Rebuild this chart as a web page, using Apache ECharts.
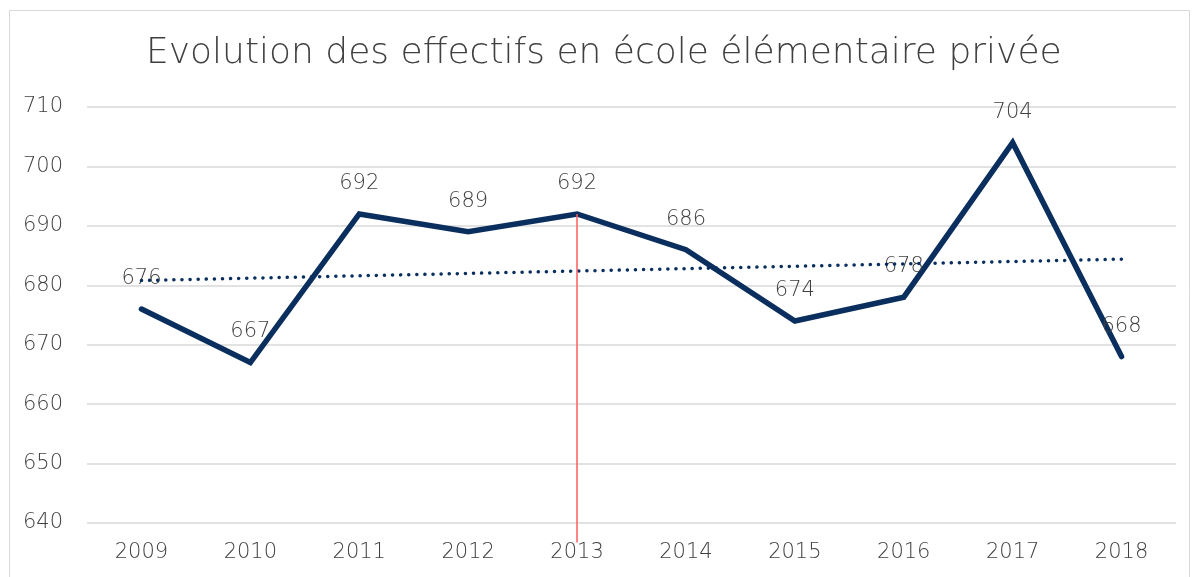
<!DOCTYPE html>
<html>
<head>
<meta charset="utf-8">
<script src="https://cdn.jsdelivr.net/npm/echarts@6/dist/echarts.min.js"></script>
<style>
  html, body { margin: 0; padding: 0; background: #fff; }
  #main { width: 1193px; height: 577px; }
</style>
</head>
<body>
<div id="main"></div>
<script>
// données
var years = ['2009', '2010', '2011', '2012', '2013', '2014', '2015', '2016', '2017', '2018'];
var effectifs = [676, 667, 692, 689, 692, 686, 674, 678, 704, 668];
// tendance linéaire (extrémités)
var tendance = [680.8, null, null, null, null, null, null, null, null, 684.4];
var yTicks = [640, 650, 660, 670, 680, 690, 700, 710];

var navy = '#0a2f5e';
var grey = '#404040';
var font = 'DejaVu Sans';

var chart = echarts.init(document.getElementById('main'));

var option = {
  animation: false,
  title: {
    text: 'Evolution des effectifs en école élémentaire privée',
    left: 141,
    top: 31,
    textStyle: {
      color: grey,
      fontWeight: 200,
      fontSize: 36,
      fontFamily: font
    }
  },
  graphic: [{
    type: 'rect',
    left: 7,
    top: 8,
    shape: { width: 1180, height: 600 },
    style: { fill: 'none', stroke: '#d9d9d9', lineWidth: 1 },
    silent: true
  }],
  grid: {
    left: 87,
    right: 17,
    top: 107,
    bottom: 54
  },
  xAxis: {
    type: 'category',
    data: years,
    boundaryGap: true,
    axisLine: { show: false },
    axisTick: { show: false },
    axisLabel: {
      color: grey,
      fontSize: 21,
      fontWeight: 200,
      fontFamily: font,
      margin: 19
    }
  },
  yAxis: {
    type: 'value',
    min: yTicks[0],
    max: yTicks[yTicks.length - 1],
    interval: 10,
    axisLine: { show: false },
    axisTick: { show: false },
    axisLabel: {
      color: grey,
      fontSize: 21,
      fontWeight: 200,
      fontFamily: font,
      margin: 24
    },
    splitLine: { lineStyle: { color: '#d9d9d9', width: 1.5 } }
  },
  series: [{
    name: 'Effectifs',
    type: 'line',
    data: effectifs,
    symbol: 'circle',
    symbolSize: 0.1,
    showSymbol: true,
    itemStyle: { color: navy },
    lineStyle: { color: navy, width: 5.5, cap: 'round', join: 'miter' },
    label: {
      show: true,
      position: 'top',
      distance: 20,
      color: grey,
      fontSize: 21,
      fontWeight: 200,
      fontFamily: font
    },
    markLine: {
      silent: true,
      symbol: 'none',
      label: { show: false },
      lineStyle: { color: '#ff5c5c', width: 1.5, type: 'solid' },
      data: [[
        { xAxis: '2013', yAxis: effectifs[4] },
        { xAxis: '2013', y: '94%' }
      ]]
    },
    z: 3
  }, {
    name: 'Tendance',
    type: 'line',
    data: tendance,
    connectNulls: true,
    symbol: 'none',
    lineStyle: { color: navy, width: 3.5, type: [0.1, 8], cap: 'round' },
    z: 4
  }]
};

chart.setOption(option);
</script>
</body>
</html>
